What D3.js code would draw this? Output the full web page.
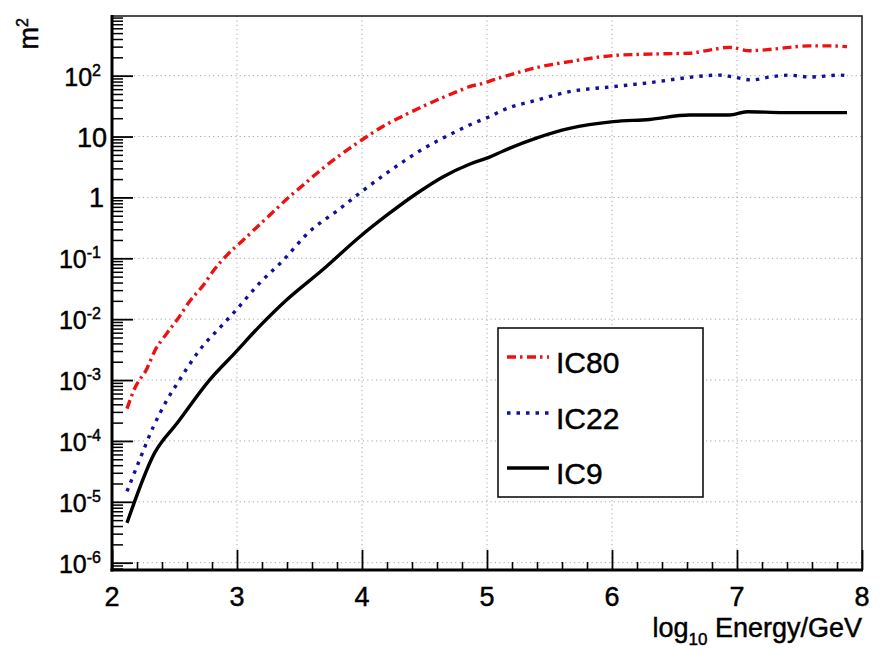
<!DOCTYPE html>
<html>
<head>
<meta charset="utf-8">
<script src="https://cdn.jsdelivr.net/npm/d3@7"></script>
<style>
  body { margin: 0; background: #fff; }
  svg { font-family: "Liberation Sans", Arial, Helvetica, sans-serif; }
</style>
</head>
<body>
<div id="chart"></div>
<script>
// effective area (m^2) vs log10 Energy/GeV
const ic9Energy = [2.12, 2.34, 2.52, 2.78, 2.98, 3.18, 3.40, 3.69, 3.98, 4.22, 4.44, 4.65, 4.86, 5.02, 5.13, 5.40, 5.66, 6.01, 6.30, 6.62, 6.94, 7.08, 7.37, 7.88];
const ic9Area = [4.5e-6, 6.3e-5, 1.95e-4, 1.0e-3, 2.75e-3, 7.6e-3, 0.021, 0.066, 0.224, 0.55, 1.17, 2.19, 3.5, 4.6, 5.8, 9.5, 13.6, 17.6, 19.1, 22.6, 22.6, 25.6, 24.7, 24.7];

const ic22Energy = [2.12, 2.21, 2.33, 2.44, 2.53, 2.70, 2.88, 2.98, 3.18, 3.37, 3.58, 3.80, 3.98, 4.22, 4.49, 4.73, 4.86, 5.02, 5.13, 5.40, 5.66, 6.01, 6.30, 6.46, 6.62, 6.86, 6.96, 7.12, 7.26, 7.42, 7.58, 7.82, 7.88];
const ic22Area = [1.48e-5, 4.3e-5, 1.7e-4, 4.7e-4, 9.3e-4, 3.1e-3, 7.9e-3, 0.0132, 0.039, 0.093, 0.275, 0.60, 1.17, 2.7, 6.3, 11.5, 15.5, 21.2, 27.3, 39.8, 54.6, 66, 76.7, 85, 94, 102, 96, 85, 95, 102, 95, 102, 100];

const ic80Energy = [2.12, 2.18, 2.28, 2.34, 2.44, 2.53, 2.62, 2.73, 2.82, 2.92, 3.05, 3.29, 3.42, 3.53, 3.64, 3.77, 3.90, 4.04, 4.17, 4.32, 4.46, 4.60, 4.76, 4.86, 4.97, 5.05, 5.21, 5.37, 5.66, 6.01, 6.30, 6.62, 6.78, 6.94, 7.10, 7.26, 7.42, 7.58, 7.74, 7.88];
const ic80Area = [3.4e-4, 7.2e-4, 1.55e-3, 2.95e-3, 5.9e-3, 0.0104, 0.0195, 0.036, 0.066, 0.113, 0.20, 0.58, 1.03, 1.6, 2.5, 4.1, 6.4, 10, 14.8, 21.4, 29.5, 39.8, 54.6, 66, 75, 85, 107, 132, 170, 214, 226, 234, 263, 292, 257, 269, 292, 309, 309, 299];

const seriesNames = ["IC80", "IC22", "IC9"];
const xTicks = [2, 3, 4, 5, 6, 7, 8];
const yExponents = [-6, -5, -4, -3, -2, -1, 0, 1, 2];

const width = 883, height = 663;
const m = { left: 112, right: 862, top: 16, bottom: 570 };

const svg = d3.select("#chart").append("svg")
    .attr("width", width)
    .attr("height", height);

const x = d3.scaleLinear().domain([2, 8]).range([m.left, m.right]);
const y = d3.scaleLog().domain([Math.pow(10, -6.12), Math.pow(10, 2.98)]).range([m.bottom, m.top]);

// grid (dotted)
const grid = svg.append("g").attr("stroke", "#8a8a8a").attr("stroke-width", 1)
    .attr("stroke-dasharray", "1.2,3.2").attr("opacity", 0.75);
grid.selectAll(".gx").data(xTicks.slice(1, -1)).enter().append("line")
    .attr("x1", d => x(d)).attr("x2", d => x(d))
    .attr("y1", m.top).attr("y2", m.bottom);
grid.selectAll(".gy").data(yExponents).enter().append("line")
    .attr("x1", m.left).attr("x2", m.right)
    .attr("y1", d => y(Math.pow(10, d))).attr("y2", d => y(Math.pow(10, d)));

// frame (top / right)
svg.append("rect")
    .attr("x", m.left).attr("y", m.top)
    .attr("width", m.right - m.left).attr("height", m.bottom - m.top)
    .attr("fill", "none").attr("stroke", "#222").attr("stroke-width", 1.6);

// minor tick values
const yMinor = [];
for (let e = -7; e <= 2; e++) {
    for (let k = 2; k <= 9; k++) {
        const v = k * Math.pow(10, e);
        if (v > y.domain()[0] && v < y.domain()[1]) yMinor.push(v);
    }
}
const xMinor = d3.range(2, 8.001, 0.2).filter(d => Math.abs(d - Math.round(d)) > 0.01);

// y axis
svg.append("g").attr("transform", `translate(${m.left},0)`)
    .call(d3.axisLeft(y).tickValues(yMinor).tickSize(-11).tickFormat(""))
    .call(g => g.select(".domain").remove())
    .call(g => g.selectAll("line").attr("stroke", "#000").attr("stroke-width", 1.5));
svg.append("g").attr("transform", `translate(${m.left},0)`)
    .call(d3.axisLeft(y).tickValues(yExponents.map(e => Math.pow(10, e))).tickSize(-21).tickFormat(""))
    .call(g => g.select(".domain").remove())
    .call(g => g.selectAll("line").attr("stroke", "#000").attr("stroke-width", 1.8));

// x axis
svg.append("g").attr("transform", `translate(0,${m.bottom})`)
    .call(d3.axisBottom(x).tickValues(xMinor).tickSize(-8).tickFormat(""))
    .call(g => g.select(".domain").remove())
    .call(g => g.selectAll("line").attr("stroke", "#000").attr("stroke-width", 1.6));
svg.append("g").attr("transform", `translate(0,${m.bottom})`)
    .call(d3.axisBottom(x).tickValues(xTicks).tickSize(-20).tickFormat(""))
    .call(g => g.select(".domain").remove())
    .call(g => g.selectAll("line").attr("stroke", "#000").attr("stroke-width", 1.8));

// axis lines
svg.append("line").attr("x1", m.left).attr("x2", m.left).attr("y1", m.top - 1).attr("y2", m.bottom + 1.5)
    .attr("stroke", "#000").attr("stroke-width", 3);
svg.append("line").attr("x1", m.left - 1.5).attr("x2", m.right + 1).attr("y1", m.bottom).attr("y2", m.bottom)
    .attr("stroke", "#000").attr("stroke-width", 3);

const heavy = sel => sel.attr("fill", "#000").attr("stroke", "#000").attr("stroke-width", 0.45);

// x tick labels
svg.append("g").selectAll("text").data(xTicks).enter().append("text")
    .attr("x", d => x(d)).attr("y", 606)
    .attr("text-anchor", "middle")
    .attr("font-size", 27)
    .call(heavy)
    .text(d => d);

// y tick labels
const yl = svg.append("g").selectAll("text").data(yExponents).enter().append("text")
    .attr("y", d => y(Math.pow(10, d)) + 10)
    .attr("text-anchor", "end")
    .attr("font-size", d => d >= 0 && d <= 1 ? 27 : 25)
    .call(heavy);
yl.filter(d => d === 0).attr("x", 104).text("1");
yl.filter(d => d === 1).attr("x", 107).text("10");
yl.filter(d => d < 0 || d > 1).attr("x", 101).each(function(d) {
    const t = d3.select(this);
    t.append("tspan").text("10");
    t.append("tspan").attr("dy", -10).attr("font-size", 16).text(d);
});

// axis titles
svg.append("text")
    .attr("x", 862).attr("y", 637)
    .attr("text-anchor", "end")
    .attr("font-size", 27)
    .call(heavy)
    .call(t => {
        t.append("tspan").text("log");
        t.append("tspan").attr("dy", 8).attr("font-size", 17).text("10");
        t.append("tspan").attr("dy", -8).text(" Energy/GeV");
    });
svg.append("text")
    .attr("transform", "translate(38,18) rotate(-90)")
    .attr("text-anchor", "end")
    .attr("font-size", 27)
    .call(heavy)
    .call(t => {
        t.append("tspan").text("m");
        t.append("tspan").attr("dy", -10).attr("font-size", 16).text("2");
    });

// curves
const line = d3.line().x(d => x(d[0])).y(d => y(d[1])).curve(d3.curveMonotoneX);
const series = [
    { name: seriesNames[0], energy: ic80Energy, area: ic80Area, color: "#ee1111", dash: "9,4,2.5,4.5" },
    { name: seriesNames[1], energy: ic22Energy, area: ic22Area, color: "#111199", dash: "3.5,6" },
    { name: seriesNames[2], energy: ic9Energy, area: ic9Area, color: "#000000", dash: null }
];
const plot = svg.append("g");
series.forEach(s => {
    plot.append("path")
        .datum(s.energy.map((e, i) => [e, s.area[i]]))
        .attr("d", line)
        .attr("fill", "none")
        .attr("stroke", s.color)
        .attr("stroke-width", 3.4)
        .attr("stroke-dasharray", s.dash);
});

// legend
const lg = svg.append("g");
lg.append("rect")
    .attr("x", 498).attr("y", 328).attr("width", 205).attr("height", 169)
    .attr("fill", "#fff").attr("stroke", "#111").attr("stroke-width", 1.6);
const rowY = [357, 413, 468];
series.forEach((s, i) => {
    lg.append("line")
        .attr("x1", 507).attr("x2", 549)
        .attr("y1", rowY[i]).attr("y2", rowY[i])
        .attr("stroke", s.color).attr("stroke-width", 3.4)
        .attr("stroke-dasharray", s.dash);
    lg.append("text")
        .attr("x", 556).attr("y", rowY[i] + 16)
        .attr("font-size", 30)
        .call(heavy)
        .text(s.name);
});
</script>
</body>
</html>
